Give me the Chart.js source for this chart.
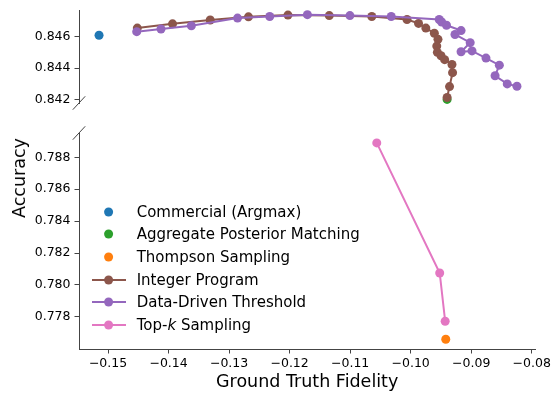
<!DOCTYPE html>
<html lang="en">
<head>
<meta charset="UTF-8">
<title>Accuracy vs Ground Truth Fidelity</title>
<script src="https://cdn.jsdelivr.net/npm/chart.js"></script>
<style>
  body { margin: 0; background: #fff; font-family: "DejaVu Sans", sans-serif; }
  #wrap { position: relative; width: 555px; height: 396px; overflow: hidden; }
  #topCanvas { position: absolute; left: 0; top: 0; }
  #botCanvas { position: absolute; left: 0; top: 120px; }
  #ylab { position: absolute; left: 18.5px; top: 178px; transform: translate(-50%, -50%) rotate(-90deg);
          font-size: 17.5px; white-space: nowrap; color: #000; }
  #legend { position: absolute; left: 91.7px; top: 200.35px; font-size: 15px; color: #000; }
  .row { display: flex; align-items: center; height: 22.7px; white-space: nowrap; }
  .row svg { width: 34px; height: 12px; margin-right: 11px; flex: none; }
</style>
</head>
<body>
<div id="wrap">
  <canvas id="topCanvas" width="555" height="115"></canvas>
  <canvas id="botCanvas" width="555" height="276"></canvas>
  <div id="ylab">Accuracy</div>
  <div id="legend"></div>
</div>
<script>
// data
const seriesNames = ['Commercial (Argmax)', 'Aggregate Posterior Matching', 'Thompson Sampling',
                     'Integer Program', 'Data-Driven Threshold', 'Top-k Sampling'];
const seriesColors = ['#1f77b4', '#2ca02c', '#ff7f0e', '#8c564b', '#9467bd', '#e377c2'];

const commercialX = [-0.1515];
const commercialY = [0.8461];
const aggregateX = [-0.0942];
const aggregateY = [0.8420];
const thompsonX = [-0.0942];
const thompsonY = [0.7766];

const integerX = [-0.1452, -0.1394, -0.1332, -0.1269, -0.1204, -0.1136, -0.1066, -0.1008, -0.0989, -0.0977,
                  -0.0963, -0.0957, -0.0959, -0.0958, -0.0952, -0.0946, -0.0934, -0.0933, -0.0938, -0.0942];
const integerY = [0.84656, 0.84683, 0.84708, 0.84728, 0.84739, 0.84736, 0.84730, 0.84711, 0.84686, 0.84656,
                  0.84623, 0.84584, 0.84541, 0.84501, 0.84479, 0.84454, 0.84423, 0.84371, 0.84282, 0.84212];

const thresholdX = [-0.1453, -0.1413, -0.1363, -0.1287, -0.1234, -0.1172, -0.1102, -0.1034, -0.0955, -0.0951, -0.0943,
                    -0.0919, -0.0929, -0.0904, -0.0919, -0.0901, -0.0878, -0.0856, -0.0863, -0.0843, -0.0827];
const thresholdY = [0.84633, 0.84650, 0.84671, 0.84720, 0.84730, 0.84742, 0.84736, 0.84730, 0.84711, 0.84695, 0.84674,
                    0.84640, 0.84615, 0.84563, 0.84505, 0.84510, 0.84464, 0.84419, 0.84351, 0.84299, 0.84284];

const topkX = [-0.1056, -0.0952, -0.0943];
const topkY = [0.7889, 0.78075, 0.77773];

const xTicks = [-0.15, -0.14, -0.13, -0.12, -0.11, -0.10, -0.09, -0.08];
const yTicksTop = [0.842, 0.844, 0.846];
const yTicksBottom = [0.778, 0.780, 0.782, 0.784, 0.786, 0.788];

const xMin = -0.1548, xMax = -0.0794;
const topMin = 0.84177, topMax = 0.8477;
const botMin = 0.77599, botMax = 0.78952;

const axisColor = '#444';
const tickFont = { family: 'DejaVu Sans', size: 12.5, lineHeight: 1.0 };

function pts(xs, ys) {
    return xs.map((x, i) => ({ x: x, y: ys[i] }));
}

function makeSet(idx, xs, ys, line) {
    return {
        label: seriesNames[idx],
        data: pts(xs, ys),
        showLine: line,
        borderColor: seriesColors[idx],
        backgroundColor: seriesColors[idx],
        borderWidth: 2,
        pointRadius: 4.5,
        pointHoverRadius: 4.5,
        pointBorderWidth: 0,
        order: 10 - idx,
        clip: false
    };
}

function fmtX(v) {
    return (v < 0 ? '\u2212' : '') + Math.abs(v).toFixed(2);
}

// little "//" marks where the y axis is cut
const breakMarks = {
    id: 'breakMarks',
    afterDraw(chart, args, opts) {
        const ctx = chart.ctx;
        const a = chart.chartArea;
        const y = opts.where === 'bottom' ? a.bottom : a.top;
        ctx.save();
        ctx.strokeStyle = axisColor;
        ctx.lineWidth = 1;
        ctx.beginPath();
        ctx.moveTo(a.left - 6.2, y + 6.7);
        ctx.lineTo(a.left + 6.2, y - 6.7);
        ctx.stroke();
        ctx.restore();
    }
};

function yScale(min, max, ticks) {
    return {
        type: 'linear',
        min: min,
        max: max,
        afterFit: s => { s.width = 79; },
        afterBuildTicks: s => { s.ticks = ticks.map(v => ({ value: v })); },
        grid: { display: true, drawOnChartArea: false, drawTicks: true, tickLength: 4.5, tickColor: axisColor, tickWidth: 1 },
        border: { display: true, color: axisColor, width: 1 },
        ticks: { color: '#000', font: tickFont, padding: 4, callback: v => v.toFixed(3) }
    };
}

const common = {
    responsive: false,
    animation: false,
    devicePixelRatio: 1,
    plugins: { legend: { display: false }, tooltip: { enabled: false } }
};

new Chart(document.getElementById('topCanvas'), {
    type: 'scatter',
    data: {
        datasets: [
            makeSet(0, commercialX, commercialY, false),
            makeSet(1, aggregateX, aggregateY, false),
            makeSet(3, integerX, integerY, true),
            makeSet(4, thresholdX, thresholdY, true)
        ]
    },
    options: Object.assign({}, common, {
        layout: { padding: { left: 0, right: 18, top: 7, bottom: 12 } },
        plugins: Object.assign({}, common.plugins, { breakMarks: { where: 'bottom' } }),
        scales: {
            x: { type: 'linear', min: xMin, max: xMax, display: false },
            y: yScale(topMin, topMax, yTicksTop)
        }
    }),
    plugins: [breakMarks]
});

new Chart(document.getElementById('botCanvas'), {
    type: 'scatter',
    data: {
        datasets: [
            makeSet(2, thompsonX, thompsonY, false),
            makeSet(5, topkX, topkY, true)
        ]
    },
    options: Object.assign({}, common, {
        layout: { padding: { left: 0, right: 18, top: 13, bottom: 0 } },
        plugins: Object.assign({}, common.plugins, { breakMarks: { where: 'top' } }),
        scales: {
            x: {
                type: 'linear',
                min: xMin,
                max: xMax,
                afterFit: s => { s.height = 47; },
                afterBuildTicks: s => { s.ticks = xTicks.map(v => ({ value: v })); },
                grid: { display: true, drawOnChartArea: false, drawTicks: true, tickLength: 4.5, tickColor: axisColor, tickWidth: 1 },
                border: { display: true, color: axisColor, width: 1 },
                ticks: { color: '#000', font: tickFont, padding: 4, maxRotation: 0, callback: fmtX },
                title: {
                    display: true,
                    text: 'Ground Truth Fidelity',
                    color: '#000',
                    font: { family: 'DejaVu Sans', size: 17.5, lineHeight: 1.2 },
                    padding: { top: 0, bottom: 3.5 }
                }
            },
            y: yScale(botMin, botMax, yTicksBottom)
        }
    }),
    plugins: [breakMarks]
});

// legend in the lower panel
const lineSeries = [false, false, false, true, true, true];
const legend = document.getElementById('legend');
seriesNames.forEach((name, i) => {
    const c = seriesColors[i];
    const row = document.createElement('div');
    row.className = 'row';
    const line = lineSeries[i] ? `<line x1="0" y1="6" x2="34" y2="6" stroke="${c}" stroke-width="2"/>` : '';
    const label = name.replace('Top-k', 'Top-<i>k</i>');
    row.innerHTML = `<svg viewBox="0 0 34 12">${line}<circle cx="16.6" cy="6" r="4.5" fill="${c}"/></svg><span>${label}</span>`;
    legend.appendChild(row);
});
</script>
</body>
</html>
